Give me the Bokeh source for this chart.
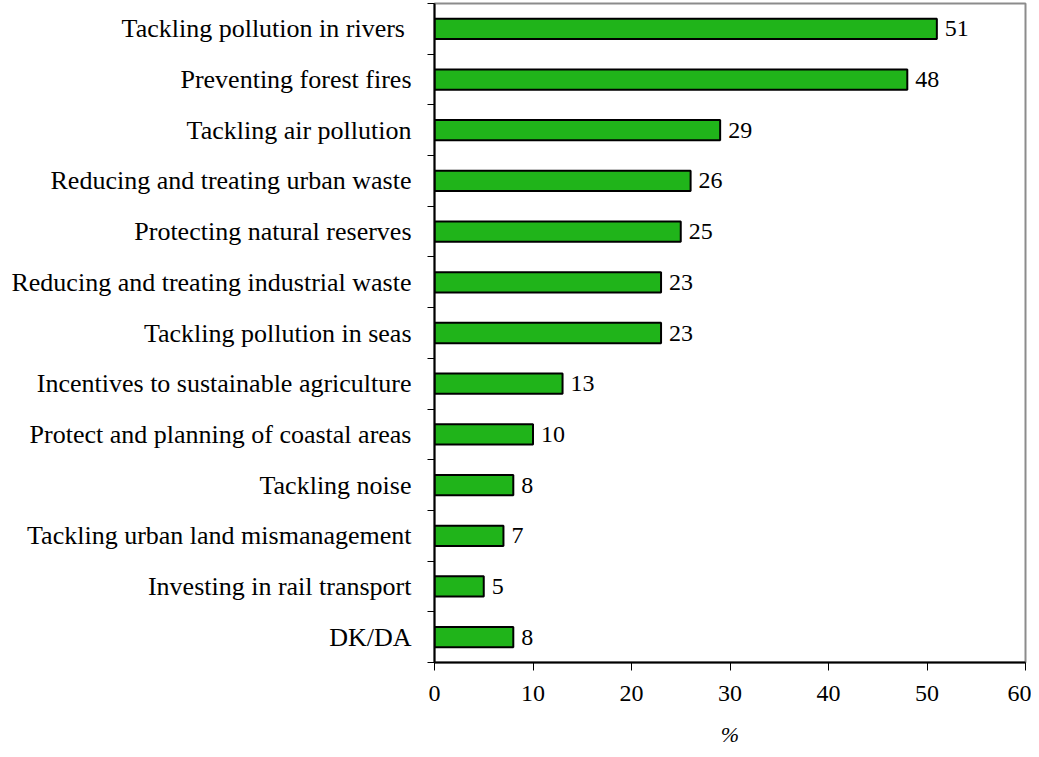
from bokeh.plotting import figure
from bokeh.models import ColumnDataSource, FixedTicker, Range1d
from bokeh.embed import file_html
from bokeh.resources import INLINE
from bokeh.core.properties import value

categories = [
    "Tackling pollution in rivers ",
    "Preventing forest fires",
    "Tackling air pollution",
    "Reducing and treating urban waste",
    "Protecting natural reserves",
    "Reducing and treating industrial waste",
    "Tackling pollution in seas",
    "Incentives to sustainable agriculture",
    "Protect and planning of coastal areas",
    "Tackling noise",
    "Tackling urban land mismanagement",
    "Investing in rail transport",
    "DK/DA",
]
values = [51, 48, 29, 26, 25, 23, 23, 13, 10, 8, 7, 5, 8]
x_ticks = [0, 10, 20, 30, 40, 50, 60]

n = len(categories)
ypos = [n - i for i in range(n)]
src = ColumnDataSource(dict(y=ypos, v=values, lbl=[str(v) for v in values]))

FONT = "Liberation Serif"

p = figure(width=1031, height=749, output_backend="svg", toolbar_location=None,
           x_range=Range1d(0, 60), y_range=Range1d(0.5, n + 0.5),
           min_border_left=434, min_border_right=6, min_border_top=3,
           min_border_bottom=82)
p.xgrid.visible = False
p.ygrid.visible = False
p.outline_line_color = "#8c8c8c"
p.outline_line_width = 2

p.hbar(y="y", right="v", left=0, height=0.4, source=src,
       fill_color="#20B41A", line_color="black", line_width=2)
p.text(x="v", y="y", text="lbl", source=src, text_font=value(FONT),
       text_font_size="24px", text_baseline="middle", text_align="left",
       text_color="black", x_offset=8)

# y axis
ya = p.yaxis[0]
ya.ticker = FixedTicker(ticks=ypos, minor_ticks=[i + 0.5 for i in range(n + 1)])
ya.major_label_overrides = {y: c for y, c in zip(ypos, categories)}
ya.major_tick_out = 0
ya.major_tick_in = 0
ya.minor_tick_out = 7
ya.minor_tick_in = 0
ya.minor_tick_line_color = "black"
ya.axis_line_color = "black"
ya.axis_line_width = 2
ya.major_label_text_font = FONT
ya.major_label_text_font_size = "26px"
ya.major_label_text_color = "black"
ya.major_label_standoff = 16

# x axis
xa = p.xaxis[0]
xa.ticker = FixedTicker(ticks=x_ticks)
xa.major_tick_out = 8
xa.major_tick_in = 0
xa.minor_tick_out = 0
xa.minor_tick_in = 0
xa.axis_line_color = "black"
xa.axis_line_width = 2
xa.major_tick_line_color = "black"
xa.major_label_text_font = FONT
xa.major_label_text_font_size = "24px"
xa.major_label_text_color = "black"
xa.major_label_standoff = 15
xa.axis_label = "%"
xa.axis_label_text_font = FONT
xa.axis_label_text_font_size = "22px"
xa.axis_label_text_font_style = "italic"
xa.axis_label_text_color = "black"
xa.axis_label_standoff = 18

open("out.html", "w").write(file_html(p, INLINE))
